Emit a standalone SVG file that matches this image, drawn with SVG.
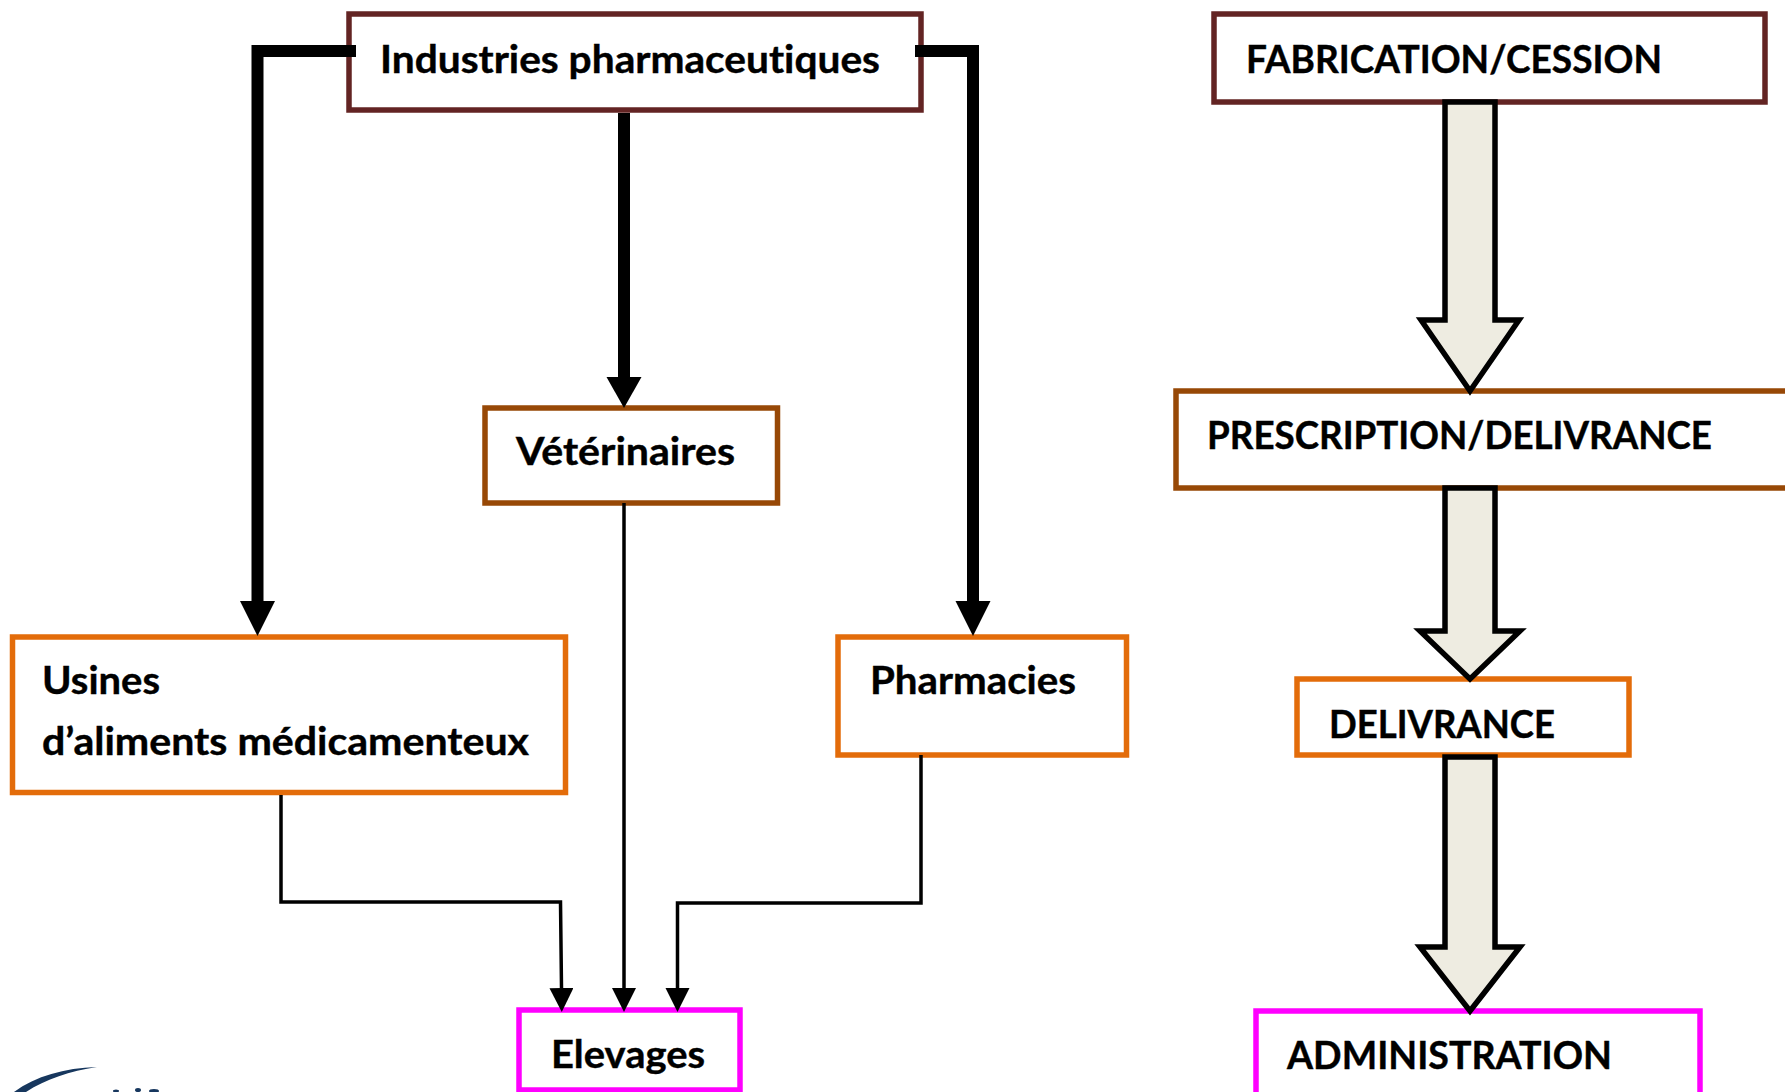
<svg xmlns="http://www.w3.org/2000/svg" width="1785" height="1092" viewBox="0 0 1785 1092">
<style>
.box{fill:#fff;stroke-width:5.500}
.b1{stroke:#632423}.b2{stroke:#974806}.b3{stroke:#E36C0A}.b4{stroke:#FF00FF}
text{font-family:"Lato","Carlito","Liberation Sans",sans-serif;font-weight:700;font-size:37.500px;fill:#000;stroke:#000;stroke-width:.4;font-variant-ligatures:none}
.thick{fill:none;stroke:#000;stroke-width:12}
.thin{fill:none;stroke:#000;stroke-width:3.500}
.block{fill:#EEECE1;stroke:#000;stroke-width:5.500}
</style>
<defs>
<marker id="hThick" markerUnits="userSpaceOnUse" markerWidth="36" markerHeight="36" refX="0" refY="17.500" orient="auto"><path d="M0,0L35,17.500L0,35Z" fill="#000"/></marker>
<marker id="hMid" markerUnits="userSpaceOnUse" markerWidth="32" markerHeight="36" refX="0" refY="17.500" orient="auto"><path d="M0,0L31,17.500L0,35Z" fill="#000"/></marker>
<marker id="hThin" markerUnits="userSpaceOnUse" markerWidth="25" markerHeight="25" refX="0" refY="12" orient="auto"><path d="M0,0L24,12L0,24Z" fill="#000"/></marker>
</defs>
<g id="n-industries"><rect class="box b1" x="349" y="14" width="572" height="96"/><text x="380" y="72.500" textLength="500" lengthAdjust="spacingAndGlyphs">Industries pharmaceutiques</text></g>
<g id="n-veterinaires"><rect class="box b2" x="485" y="408" width="292.500" height="95"/><text x="516" y="465" textLength="219" lengthAdjust="spacingAndGlyphs">Vétérinaires</text></g>
<g id="n-usines"><rect class="box b3" x="12.500" y="637" width="553" height="155.500"/><text x="42" y="694" textLength="118" lengthAdjust="spacingAndGlyphs">Usines</text><text x="42" y="755" textLength="487" lengthAdjust="spacingAndGlyphs">d’aliments médicamenteux</text></g>
<g id="n-pharmacies"><rect class="box b3" x="838" y="637" width="288.500" height="118"/><text x="870" y="694" textLength="206" lengthAdjust="spacingAndGlyphs">Pharmacies</text></g>
<g id="n-elevages"><rect class="box b4" x="519" y="1010" width="221" height="80"/><text x="551" y="1068" textLength="154" lengthAdjust="spacingAndGlyphs">Elevages</text></g>
<g id="n-fabrication"><rect class="box b1" x="1214" y="14" width="551" height="88"/><text x="1246" y="72.500" textLength="416" lengthAdjust="spacingAndGlyphs">FABRICATION/CESSION</text></g>
<g id="n-prescription"><rect class="box b2" x="1176" y="391" width="620" height="97"/><text x="1207" y="449" textLength="505" lengthAdjust="spacingAndGlyphs">PRESCRIPTION/DELIVRANCE</text></g>
<g id="n-delivrance"><rect class="box b3" x="1297" y="679" width="332" height="76"/><text x="1329" y="737.500" textLength="226" lengthAdjust="spacingAndGlyphs">DELIVRANCE</text></g>
<g id="n-administration"><rect class="box b4" x="1256" y="1011" width="444" height="100"/><text x="1287" y="1069" textLength="325" lengthAdjust="spacingAndGlyphs">ADMINISTRATION</text></g>
<g id="connectors">
<path class="thick" marker-end="url(#hThick)" d="M356,51H257.500V601"/>
<path class="thick" marker-end="url(#hThick)" d="M915,51H973V601"/>
<path class="thick" marker-end="url(#hMid)" d="M624,113V377"/>
<path class="thin" marker-end="url(#hThin)" d="M281,795V902H560.500L561.500,988"/>
<path class="thin" marker-end="url(#hThin)" d="M624,503V988"/>
<path class="thin" marker-end="url(#hThin)" d="M921,755V903H677.500V988"/>
<path class="block" d="M1445,102H1495V320H1519L1470,391L1421,320H1445Z"/>
<path class="block" d="M1445,488H1495V631H1520L1470,679L1420,631H1445Z"/>
<path class="block" d="M1445,757H1495V947H1520L1470,1011L1420,947H1445Z"/>
</g>
<g id="logo-fragment" fill="#17375E">
<path d="M14,1092C36,1076 64,1068 97,1067C70,1071 46,1079 26,1092Z"/>
<ellipse cx="116" cy="1091" rx="3" ry="1.500"/><ellipse cx="138" cy="1090" rx="3" ry="2"/><ellipse cx="154" cy="1091" rx="5" ry="2"/>
</g>
</svg>
